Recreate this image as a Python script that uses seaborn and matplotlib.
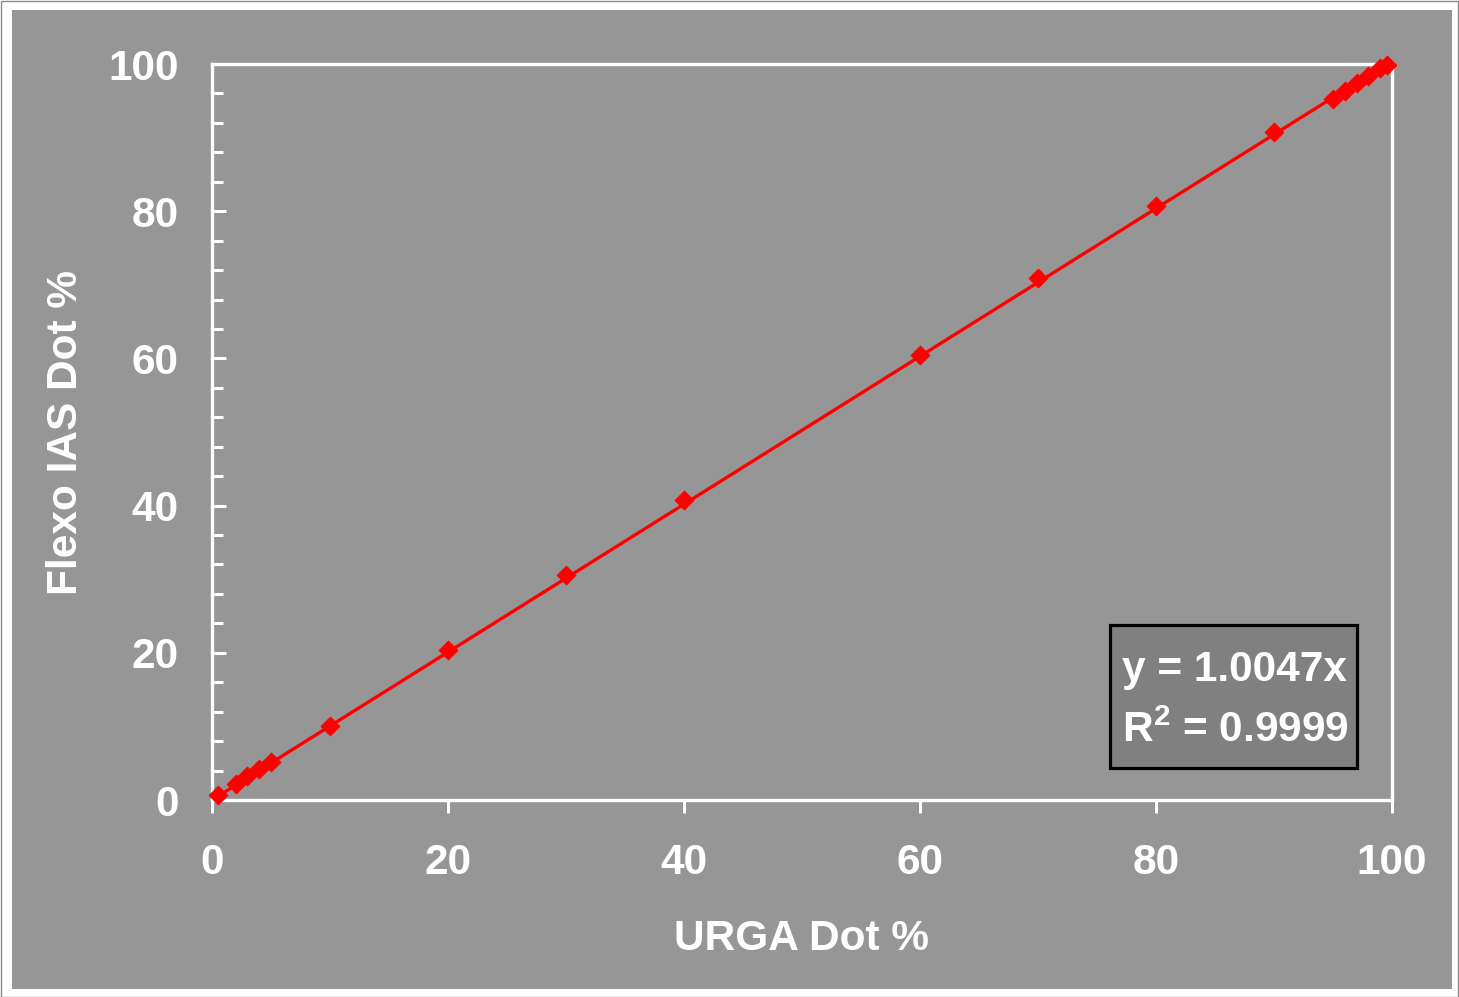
import numpy as np
import pandas as pd
import seaborn as sns
import matplotlib
matplotlib.use("Agg")
import matplotlib.pyplot as plt
from matplotlib.patches import Rectangle
from matplotlib.ticker import MultipleLocator

# Measured dot percentages: URGA reference vs. Flexo IAS reading
urga_dot = [0.5, 2, 3, 4, 5, 10, 20, 30, 40, 60, 70, 80, 90, 95, 96, 97, 98, 99, 99.6]
flexo_dot = [0.7, 2.2, 3.2, 4.2, 5.2, 10.1, 20.4, 30.6, 40.8, 60.5, 70.9, 80.7, 90.8,
             95.3, 96.3, 97.4, 98.4, 99.4, 99.9]

# Linear trend through the origin
slope = 1.0047
r_squared = 0.9999

x_ticks = [0, 20, 40, 60, 80, 100]
y_ticks = [0, 20, 40, 60, 80, 100]

sns.set_style("white")
plt.rcParams["font.family"] = ["Liberation Sans", "DejaVu Sans"]
plt.rcParams["font.weight"] = "bold"
plt.rcParams["mathtext.fontset"] = "custom"
plt.rcParams["mathtext.rm"] = "Liberation Sans:bold"
plt.rcParams["mathtext.it"] = "Liberation Sans:bold"
plt.rcParams["mathtext.bf"] = "Liberation Sans:bold"

FS = 30.5

W, H = 1459, 997
fig = plt.figure(figsize=(W / 100, H / 100), dpi=100, facecolor="white")

# Chart area panel and thin outer frame
fig.patches.append(Rectangle((12 / W, 1 - 989 / H), (1452 - 12) / W, (989 - 10) / H,
                             transform=fig.transFigure, facecolor="#969696",
                             edgecolor="none", zorder=-2))
fig.patches.append(Rectangle((0.5 / W, 0.5 / H), 1 - 1.5 / W, 1 - 1.5 / H,
                             transform=fig.transFigure, facecolor="none",
                             edgecolor="#8a8a8a", lw=1, zorder=-1))

ax = fig.add_axes([212 / W, 1 - 800 / H, (1392 - 212) / W, (800 - 64) / H])
ax.set_facecolor("#969696")

df = pd.DataFrame({"URGA": urga_dot, "Flexo": flexo_dot})
fit = pd.DataFrame({"URGA": [min(urga_dot), max(urga_dot)]})
fit["Flexo"] = slope * fit["URGA"]

sns.lineplot(data=fit, x="URGA", y="Flexo", ax=ax, color="#ff0000", lw=2.4,
             zorder=4, clip_on=False)
sns.scatterplot(data=df, x="URGA", y="Flexo", ax=ax, marker="D", s=95,
                color="#ff0000", edgecolor="#ff0000", linewidth=0.5,
                zorder=5, clip_on=False)

ax.set_xlim(0, 100)
ax.set_ylim(0, 100)
ax.set_xticks(x_ticks)
ax.set_yticks(y_ticks)
ax.yaxis.set_minor_locator(MultipleLocator(4))

for sp in ax.spines.values():
    sp.set_color("white")
    sp.set_linewidth(2.4)

ax.tick_params(axis="x", which="major", direction="out", length=9, width=2.2,
               color="white", labelcolor="white", labelsize=FS, pad=22,
               bottom=True)
ax.tick_params(axis="y", which="major", direction="in", length=10, width=2.2,
               color="white", labelcolor="white", labelsize=FS, pad=24,
               left=True)
ax.tick_params(axis="y", which="minor", direction="in", length=8, width=2.2,
               color="white", left=True)
for lab in ax.get_xticklabels() + ax.get_yticklabels():
    lab.set_fontweight("bold")

ax.set_xlabel("URGA Dot %", fontsize=FS, fontweight="bold", color="white", labelpad=26)
ax.set_ylabel("Flexo IAS Dot %", fontsize=FS, fontweight="bold", color="white", labelpad=16)

# Trend-line equation box
ax.add_patch(Rectangle((0.761, 0.0435), 0.209, 0.1943, transform=ax.transAxes,
                       facecolor="#808080", edgecolor="black", lw=2.3,
                       zorder=6, clip_on=False))
ax.text(0.7712, 0.177, f"y = {slope:.4f}x", transform=ax.transAxes, fontsize=FS,
        fontweight="bold", color="white", va="center", ha="left", zorder=7)
ax.text(0.7712, 0.094, f"R$^2$ = {r_squared:.4f}", transform=ax.transAxes, fontsize=FS,
        fontweight="bold", color="white", va="center", ha="left", zorder=7)

fig.savefig("out.png", dpi=100, facecolor="white")
